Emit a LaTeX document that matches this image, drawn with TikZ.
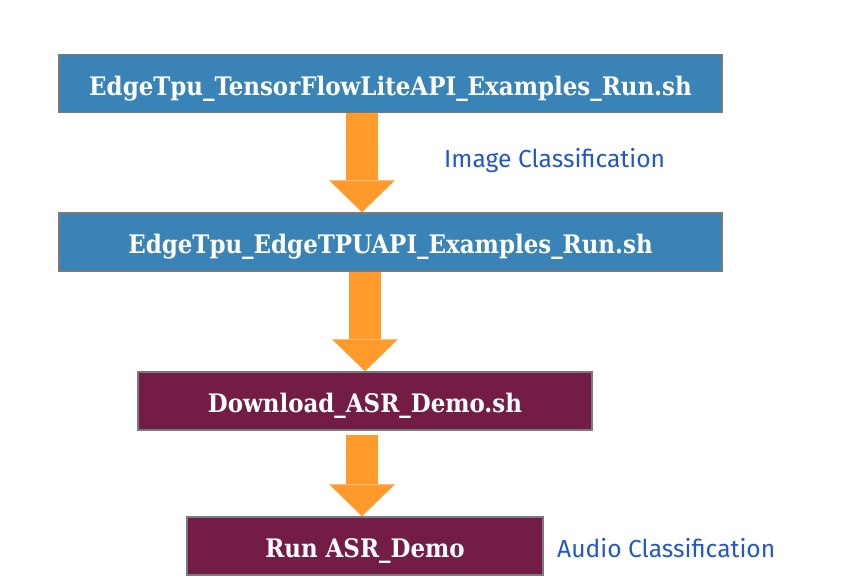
\documentclass[tikz,border=0pt]{standalone}
\usepackage{fontspec}
\setmainfont{DejaVu Serif Condensed}
\setsansfont{Fira Sans}
\usetikzlibrary{arrows.meta,positioning}
\definecolor{boxblue}{HTML}{3A83B7}
\definecolor{boxwine}{HTML}{731C45}
\definecolor{flow}{HTML}{FF9A2B}
\definecolor{notecol}{HTML}{2357C9}
\definecolor{edgecol}{HTML}{7A7A7A}
\begin{document}
\begin{tikzpicture}[x=1pt,y=-1pt,
  script/.style={draw=edgecol, line width=1.5pt, minimum height=58pt, inner sep=0pt,
    text height=23pt, text depth=0pt,
    text=white, font=\bfseries\fontsize{25.5}{28}\selectfont},
  bluebox/.style={script, fill=boxblue},
  winebox/.style={script, fill=boxwine},
  flowarrow/.style={draw=flow, line width=32pt,
    -{Triangle[width=66pt,length=32pt,line width=0pt]}},
  note/.style={text=notecol, inner sep=0pt, font=\sffamily\fontsize{24.6}{28}\selectfont}]
\useasboundingbox (0,0) rectangle (863,587);
\node[bluebox, minimum width=663pt] (tflite) at (390.5,83.5) {EdgeTpu\_TensorFlowLiteAPI\_Examples\_Run.sh};
\node[bluebox, minimum width=663pt] (edgetpu) at (390.5,242) {EdgeTpu\_EdgeTPUAPI\_Examples\_Run.sh};
\node[winebox, minimum width=454pt] (download) at (365,401) {Download\_ASR\_Demo.sh};
\node[winebox, minimum width=356pt] (runasr) at (365,546) {Run ASR\_Demo};
\draw[flowarrow] ([xshift=-3pt]tflite.south -| download) -- ([xshift=-3pt]edgetpu.north -| download);
\draw[flowarrow] (edgetpu.south -| download) -- (download.north);
\draw[flowarrow, shorten <=4pt] ([xshift=-3pt]download.south) -- ([xshift=-3pt]runasr.north);
\node[note, anchor=base west] (imgcls) at (444,167) {Image Classification};
\node[note, anchor=base west] (audiocls) at (557,557) {Audio Classification};
\end{tikzpicture}
\end{document}
